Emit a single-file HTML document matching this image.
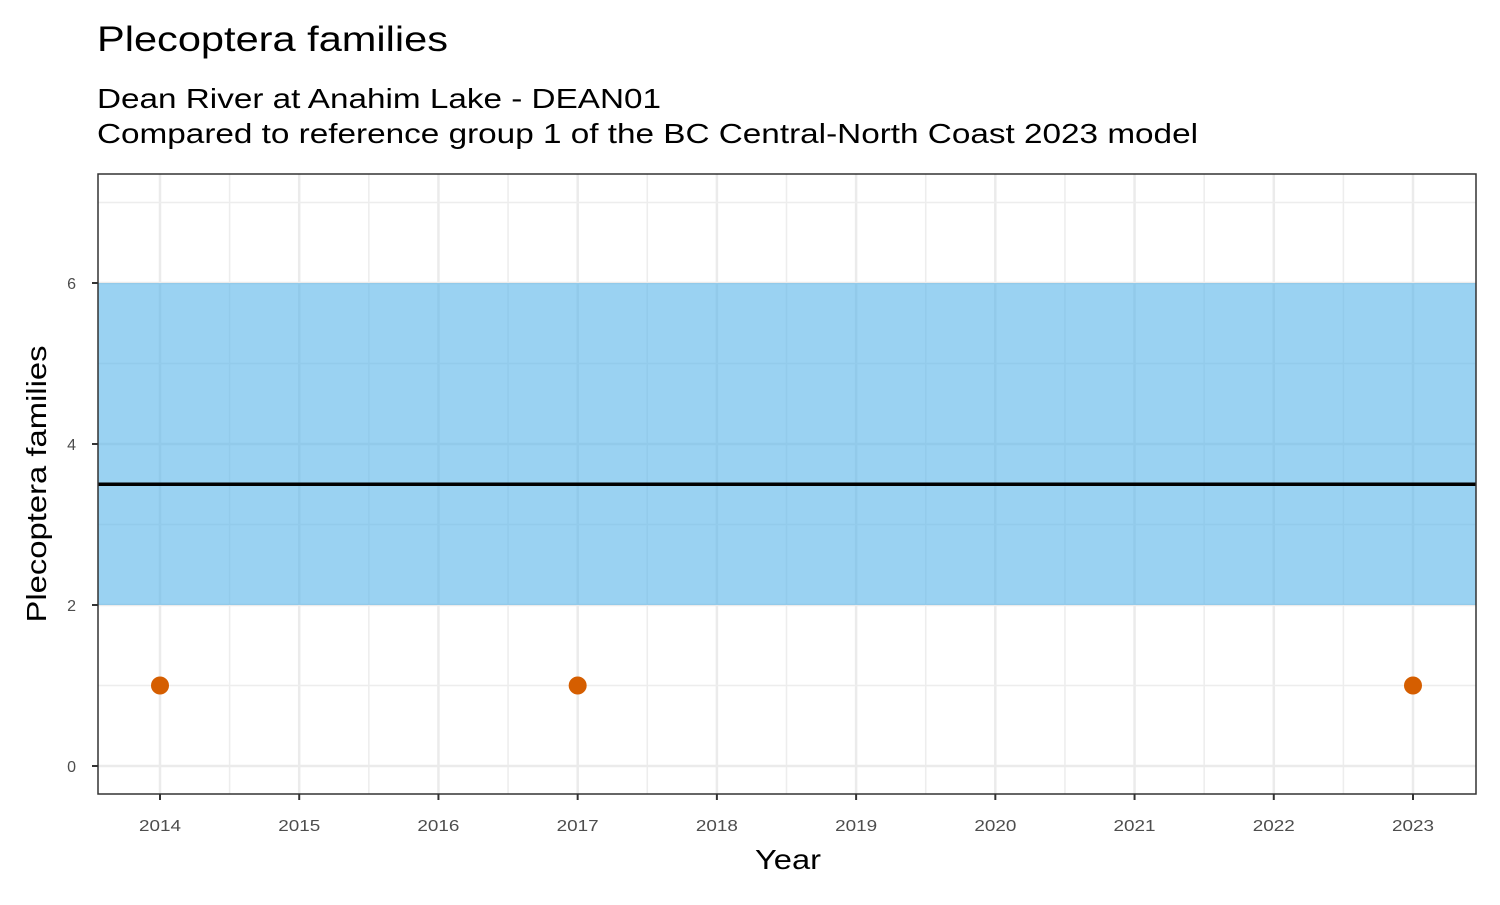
<!DOCTYPE html>
<html><head><meta charset="utf-8"><style>
body{margin:0;background:#fff;font-family:"Liberation Sans",Arial,sans-serif;}
</style></head><body>
<svg width="1500" height="900" xmlns="http://www.w3.org/2000/svg">
<text x="97" y="51" font-size="35" textLength="351" lengthAdjust="spacingAndGlyphs" fill="#000">Plecoptera families</text>
<text x="97" y="108" font-size="28" textLength="564" lengthAdjust="spacingAndGlyphs" fill="#000">Dean River at Anahim Lake - DEAN01</text>
<text x="97" y="143" font-size="28" textLength="1101" lengthAdjust="spacingAndGlyphs" fill="#000">Compared to reference group 1 of the BC Central-North Coast 2023 model</text>
<g id="plot"></g>
<text x="788" y="869" font-size="28" textLength="66" lengthAdjust="spacingAndGlyphs" text-anchor="middle">Year</text>
<text transform="translate(46,484) rotate(-90)" font-size="28" textLength="277" lengthAdjust="spacingAndGlyphs" text-anchor="middle">Plecoptera families</text>
</svg>
<script>
const years=[2014,2015,2016,2017,2018,2019,2020,2021,2022,2023];
const yTicks=[0,2,4,6];
const pointYears=[2014,2017,2023];
const pointValues=[1,1,1];
const bandLow=[2];
const bandHigh=[6];
const refLine=[3.5];
const L=98,R=1476,T=174,B=794;
const xs=y=>160+(y-2014)*(1413-160)/9;
const ys=v=>766-v*80.5;
const g=document.getElementById('plot');
const NS='http://www.w3.org/2000/svg';
function mk(t,a){const e=document.createElementNS(NS,t);for(const k in a)e.setAttribute(k,a[k]);g.appendChild(e);return e;}
let e;
e=mk('rect',{x:L,y:T,width:R-L,height:B-T,fill:'#fff'});


for(let i=0;i<years.length;i++){
  const x=xs(years[i]);
  e=mk('line',{x1:x,x2:x,y1:T,y2:B,stroke:'#ebebeb','stroke-width':2.5});
  
  
  if(i<years.length-1){const xm=xs(years[i]+0.5);
  e=mk('line',{x1:xm,x2:xm,y1:T,y2:B,stroke:'#ededed','stroke-width':1.5});
  
  }
  e=mk('line',{x1:x,x2:x,y1:B,y2:B+6,stroke:'#333','stroke-width':2});
  
  
  e=mk('text',{x:x,y:B+37,'font-size':16,textLength:42,lengthAdjust:'spacingAndGlyphs',fill:'#4d4d4d','text-anchor':'middle'});e.textContent=years[i];
  
  
}
for(let i=0;i<yTicks.length;i++){
  const y=ys(yTicks[i]);
  e=mk('line',{x1:L,x2:R,y1:y,y2:y,stroke:'#ebebeb','stroke-width':2.5});
  
  
  const ym=ys(yTicks[i]+1);
  e=mk('line',{x1:L,x2:R,y1:ym,y2:ym,stroke:'#ededed','stroke-width':1.5});
  
  
  e=mk('line',{x1:L-6,x2:L,y1:y,y2:y,stroke:'#333','stroke-width':2});
  
  
  e=mk('text',{x:L-22,y:y+6,'font-size':16,fill:'#4d4d4d','text-anchor':'end'});e.textContent=yTicks[i];
  
  
}
e=mk('rect',{x:L,y:ys(bandHigh[0]),width:R-L,height:ys(bandLow[0])-ys(bandHigh[0]),fill:'#56b4e9','fill-opacity':0.6});


e=mk('line',{x1:L,x2:R,y1:ys(refLine[0]),y2:ys(refLine[0]),stroke:'#000','stroke-width':3.5});


for(let i=0;i<pointYears.length;i++){
  e=mk('circle',{cx:xs(pointYears[i]),cy:ys(pointValues[i]),r:9,fill:'#d55e00'});
  
  
}
e=mk('rect',{x:L,y:T,width:R-L,height:B-T,fill:'none',stroke:'#333','stroke-width':1.5});


</script>
</body></html>
